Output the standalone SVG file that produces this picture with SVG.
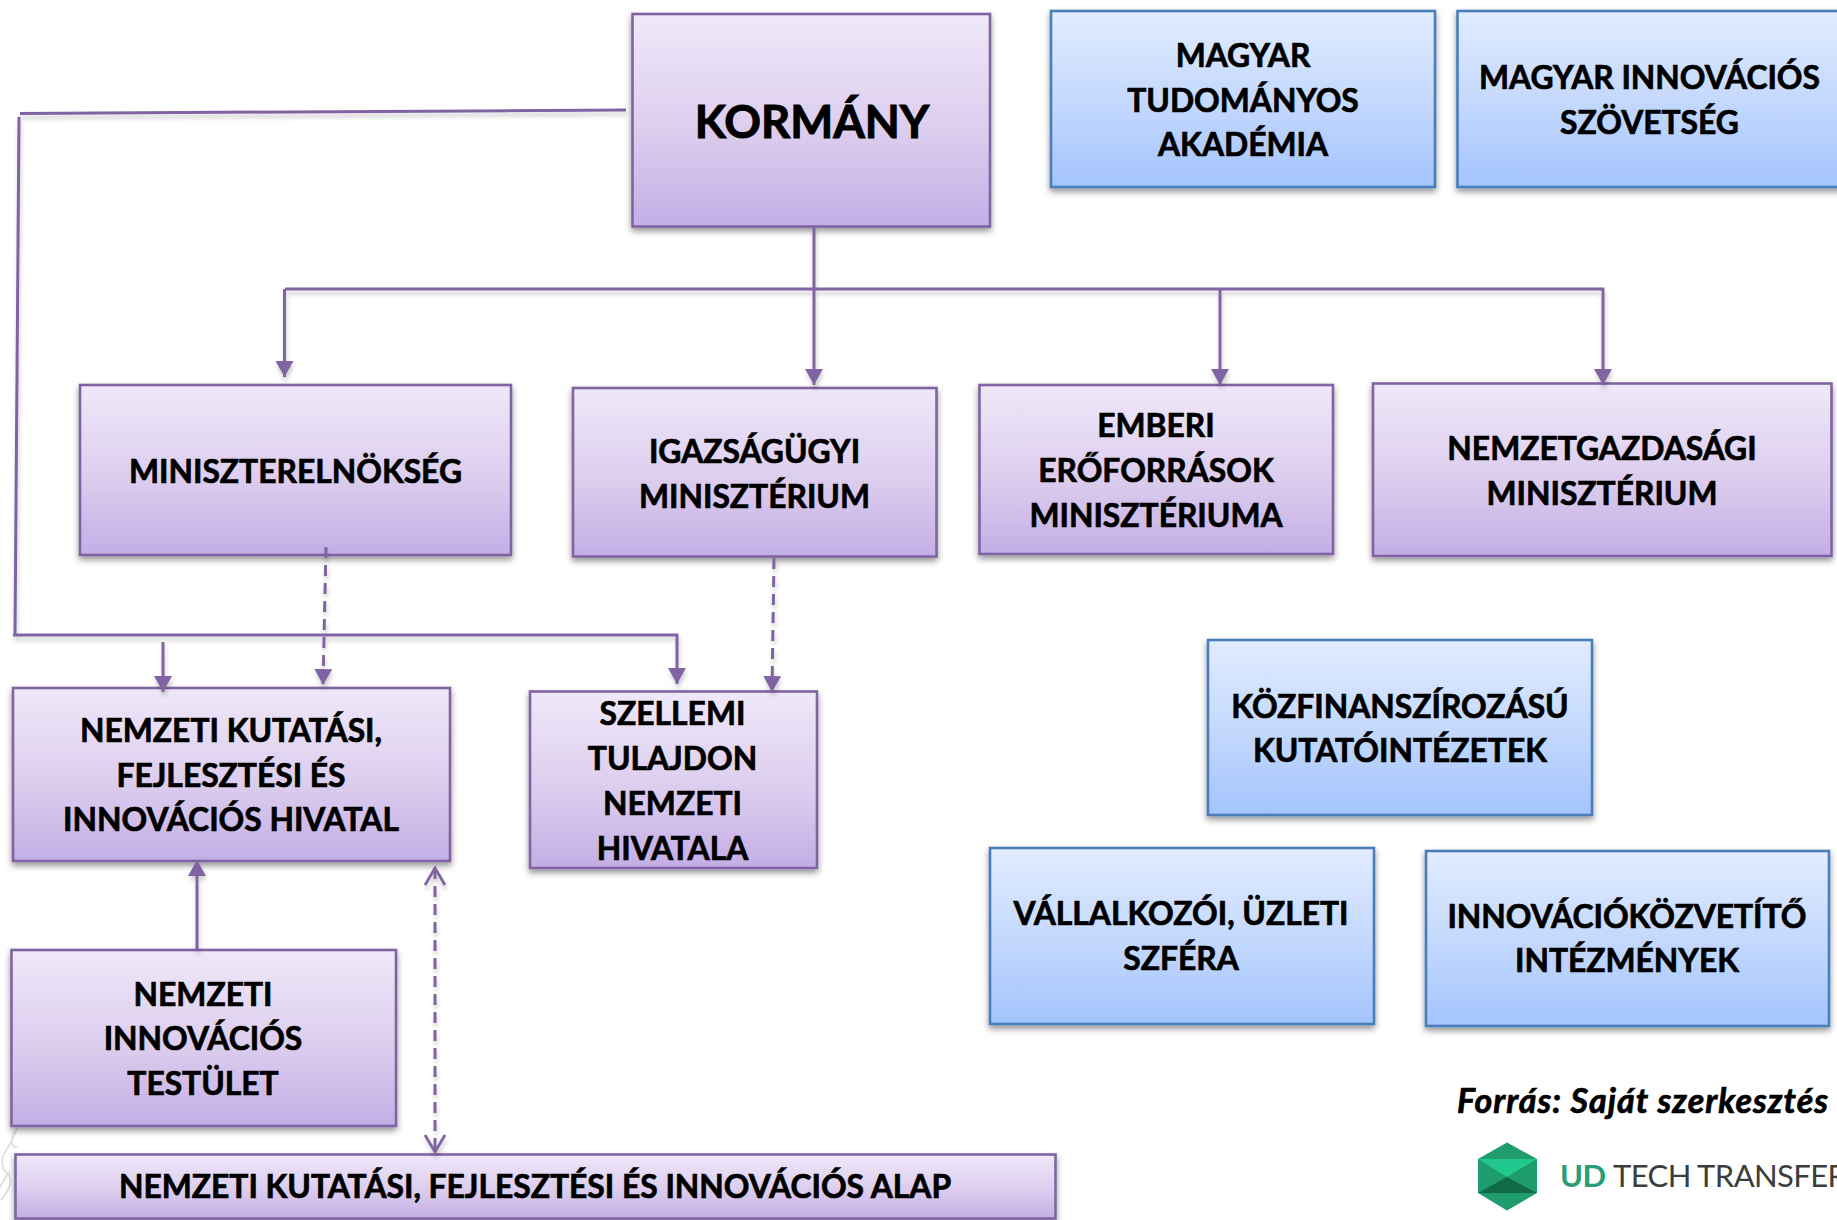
<svg xmlns="http://www.w3.org/2000/svg" width="1837" height="1220" viewBox="0 0 1837 1220">
<style>
.p{fill:url(#pg);stroke:#8064a2;stroke-width:2.6;filter:url(#sh)}
.b{fill:url(#bg);stroke:#4a7ebb;stroke-width:2.6;filter:url(#sh)}
text{font-family:"Lato","Liberation Sans",sans-serif;font-weight:700;font-size:31.800px;fill:#000;stroke:#000;stroke-width:.7;text-anchor:middle}
.c{fill:none;stroke:#8064a2;stroke-width:3}
.s{filter:url(#ls)}
.d{stroke-dasharray:11 7}
.k{fill:none;stroke:#e2e2dc;stroke-width:2}
.l{font-size:31px;letter-spacing:-.6px;text-anchor:start;stroke:none}
</style>
<defs>
<linearGradient id="pg" x1="0" y1="0" x2="0" y2="1"><stop offset="0" stop-color="#efe8f9"/><stop offset=".55" stop-color="#dccdee"/><stop offset="1" stop-color="#c3aee5"/></linearGradient>
<linearGradient id="bg" x1="0" y1="0" x2="0" y2="1"><stop offset="0" stop-color="#e1ecff"/><stop offset=".5" stop-color="#c5d9fd"/><stop offset="1" stop-color="#a3c4fd"/></linearGradient>
<filter id="sh" x="-5%" y="-5%" width="110%" height="120%"><feDropShadow dx="0" dy="3.500" stdDeviation="3" flood-color="#000" flood-opacity=".42"/></filter>
<filter id="ls" x="-5%" y="-5%" width="110%" height="110%"><feDropShadow dx="1" dy="4" stdDeviation="2.200" flood-color="#000" flood-opacity=".2"/></filter>
<marker id="a" markerUnits="userSpaceOnUse" markerWidth="17" markerHeight="18" refX="16" refY="9" orient="auto"><path d="M0 0L16 9L0 18Z" fill="#8064a2"/></marker>
<marker id="o" markerUnits="userSpaceOnUse" markerWidth="24" markerHeight="24" refX="18" refY="11" orient="auto-start-reverse"><path d="M1 1L18 11L1 21" fill="none" stroke="#8064a2" stroke-width="2.800"/></marker>
</defs>
<rect width="1837" height="1220" fill="#fff"/>
<path class="k" d="M17 1128C13 1140 9 1146 5 1152C0 1160 2 1170 8 1174C14 1180 8 1192 1 1200M14 1132C10 1142 12 1150 18 1146M10 1172C4 1178 2 1184 0 1188"/>
<g id="kormany"><rect class="p" x="632.500" y="14" width="357.500" height="212.500"/><text x="812" y="138" style="font-size:45.500px;stroke-width:1">KORMÁNY</text></g>
<g id="mta"><rect class="b" x="1051" y="11" width="384" height="176"/><text x="1243" y="67">MAGYAR</text><text x="1243" y="112">TUDOMÁNYOS</text><text x="1243" y="156">AKADÉMIA</text></g>
<g id="mis"><rect class="b" x="1457.500" y="11" width="390" height="176"/><text x="1649.500" y="89">MAGYAR INNOVÁCIÓS</text><text x="1649.500" y="134">SZÖVETSÉG</text></g>
<g id="miniszterelnokseg"><rect class="p" x="80" y="385" width="431" height="170"/><text x="295.500" y="483">MINISZTERELNÖKSÉG</text></g>
<g id="igazsagugyi"><rect class="p" x="573" y="388" width="363.500" height="168.500"/><text x="754.500" y="463">IGAZSÁGÜGYI</text><text x="754.500" y="507.500">MINISZTÉRIUM</text></g>
<g id="emberi"><rect class="p" x="979.500" y="385" width="353.500" height="169"/><text x="1156" y="437">EMBERI</text><text x="1156" y="482">ERŐFORRÁSOK</text><text x="1156" y="526.500">MINISZTÉRIUMA</text></g>
<g id="nemzetgazdasagi"><rect class="p" x="1373" y="383.500" width="458.500" height="172.500"/><text x="1602" y="459.500">NEMZETGAZDASÁGI</text><text x="1602" y="505">MINISZTÉRIUM</text></g>
<g id="nkfih"><rect class="p" x="13" y="688" width="437" height="173"/><text x="231" y="742">NEMZETI KUTATÁSI,</text><text x="231" y="786.500">FEJLESZTÉSI ÉS</text><text x="231" y="831">INNOVÁCIÓS HIVATAL</text></g>
<g id="szellemi"><rect class="p" x="530" y="691.500" width="287" height="176.500"/><text x="672.500" y="724.500">SZELLEMI</text><text x="672.500" y="769.500">TULAJDON</text><text x="672.500" y="814.500">NEMZETI</text><text x="672.500" y="860">HIVATALA</text></g>
<g id="kozfin"><rect class="b" x="1208" y="640" width="384" height="175"/><text x="1400" y="717.500">KÖZFINANSZÍROZÁSÚ</text><text x="1400" y="762">KUTATÓINTÉZETEK</text></g>
<g id="vallalkozoi"><rect class="b" x="990" y="848" width="384" height="176"/><text x="1181" y="925">VÁLLALKOZÓI, ÜZLETI</text><text x="1181" y="970">SZFÉRA</text></g>
<g id="innovaciokozvetito"><rect class="b" x="1426" y="851" width="403" height="175"/><text x="1627" y="928">INNOVÁCIÓKÖZVETÍTŐ</text><text x="1627" y="972">INTÉZMÉNYEK</text></g>
<g id="nit"><rect class="p" x="11.500" y="950" width="384.500" height="176"/><text x="203" y="1006">NEMZETI</text><text x="203" y="1050">INNOVÁCIÓS</text><text x="203" y="1095">TESTÜLET</text></g>
<g id="alap"><rect class="p" x="15.500" y="1154.500" width="1040" height="64"/><text x="535" y="1198">NEMZETI KUTATÁSI, FEJLESZTÉSI ÉS INNOVÁCIÓS ALAP</text></g>
<text x="1643" y="1113" style="font-style:italic;font-size:34px;letter-spacing:1px">Forrás: Saját szerkesztés</text>
<g id="logo">
<path d="M1507 1142.500L1537 1159V1193L1507 1210.500L1478 1193V1159Z" fill="#1f9c6d"/>
<path d="M1478 1159H1537L1507 1177Z" fill="#22c88d"/>
<path d="M1478 1193H1537L1507 1177Z" fill="#0f6a47"/>
<text class="l" x="1560" y="1187" style="fill:#2a9d75">UD</text>
<text class="l" x="1613" y="1187" style="font-weight:400;fill:#3c3c3c">TECH TRANSFER</text>
</g>
<g id="connectors">
<g class="s">
<path class="c" d="M626 110L20 113.500"/>
<path class="c" d="M19 117L15 635"/>
<path class="c" d="M13 635H677V684" marker-end="url(#a)"/>
<path class="c" d="M163 642V692" marker-end="url(#a)"/>
<path class="c" d="M285 289H1603V385" marker-end="url(#a)"/>
<path class="c" d="M284.500 289V377" marker-end="url(#a)"/>
<path class="c" d="M814 227V385" marker-end="url(#a)"/>
<path class="c" d="M1220 289V385" marker-end="url(#a)"/>
<path class="c d" d="M326 547L323 685" marker-end="url(#a)"/>
<path class="c d" d="M774 558L772 692" marker-end="url(#a)"/>
<path class="c" d="M197 950V860" marker-end="url(#a)"/>
<path class="c d" d="M435 868V1152" marker-start="url(#o)" marker-end="url(#o)"/>
</g>
</g>
</svg>
